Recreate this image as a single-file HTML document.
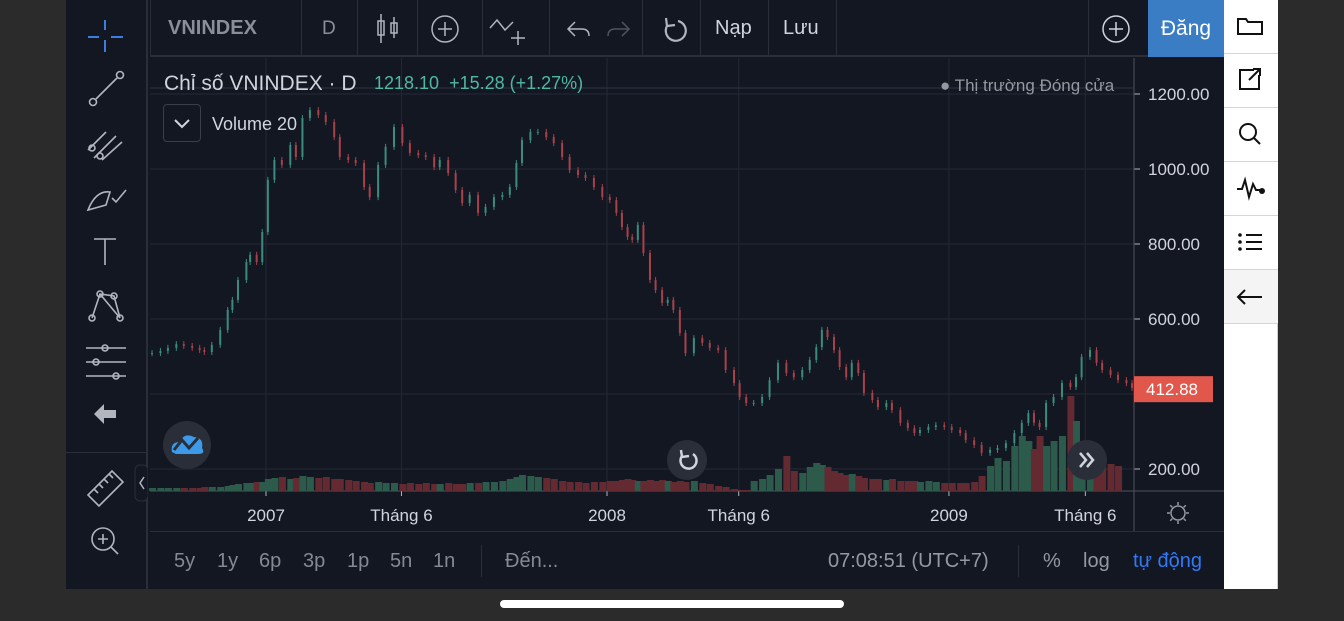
<!DOCTYPE html>
<html><head><meta charset="utf-8">
<style>
*{margin:0;padding:0;box-sizing:border-box}
body{width:1344px;height:621px;background:#2b2b2b;position:relative;overflow:hidden;font-family:"Liberation Sans","DejaVu Sans",sans-serif}
.abs{position:absolute}
.t{position:absolute;white-space:nowrap;color:#d1d4dc}
.sep{position:absolute;top:0;width:1px;height:57px;background:#2a2e39}
.rp{position:absolute;left:1224px;width:54px;height:54px;border-bottom:1px solid #d6d6d6;background:#fff}
</style></head><body>
<div class="abs" style="left:66px;top:0;width:1212px;height:589px;background:#131722"></div>
<div class="abs" style="left:66px;top:0;width:82px;height:589px;background:#131722;border-right:2px solid #2a2e39"></div>
<div class="abs" style="left:66px;top:452px;width:82px;height:1px;background:#2a2e39"></div>
<svg class="abs" style="left:66px;top:0" width="82" height="589">
<g stroke="#3d7de0" stroke-width="2"><line x1="39" y1="20" x2="39" y2="30"/><line x1="39" y1="40" x2="39" y2="52"/><line x1="22" y1="37" x2="33" y2="37"/><line x1="45" y1="37" x2="57" y2="37"/></g>
<g stroke="#b2b5be" stroke-width="1.6" fill="none">
<circle cx="27" cy="102" r="3.5"/><circle cx="54" cy="75" r="3.5"/><line x1="30" y1="99" x2="51" y2="78"/>
<path d="M22 150 L40 132 M28 158 L50 136 M36 160 L56 142"/><circle cx="26" cy="148" r="3"/><circle cx="34" cy="156" r="3"/>
<path d="M22 210 Q30 190 44 192 L40 205 Z"/><path d="M46 198 L50 202 L60 190"/>
<path d="M28 239 H50 M39 239 V265"/>
<circle cx="26" cy="318" r="3"/><circle cx="54" cy="318" r="3"/><circle cx="34" cy="294" r="3"/><circle cx="48" cy="296" r="3"/><path d="M26 318 L34 294 L48 296 L54 318 M34 294 L54 318"/>
<path d="M20 348 H60 M20 362 H60 M20 376 H60"/><circle cx="39" cy="348" r="3"/><circle cx="30" cy="362" r="3"/><circle cx="50" cy="376" r="3"/>
<path d="M22 495 L46 471 L57 482 L33 506 Z M28 489 l4 4 M33 484 l4 4 M38 479 l4 4 M43 474 l4 4"/>
<circle cx="37" cy="539" r="11"/><path d="M45 547 L52 554 M32 539 H42 M37 534 V544"/>
</g>
<path d="M28 414 L38 404 V410 H50 V418 H38 V424 Z" fill="#b2b5be"/>
<rect x="69" y="465" width="13" height="36" rx="5" fill="#131722" stroke="#2a2e39"/>
<path d="M78 477 L74 483 L78 489" stroke="#b2b5be" fill="none" stroke-width="1.5"/>
</svg>
<div class="abs" style="left:150px;top:0;width:1074px;height:57px;border-bottom:2px solid #2a2e39"></div>
<div class="sep" style="left:150px"></div><div class="sep" style="left:301px"></div><div class="sep" style="left:357px"></div><div class="sep" style="left:417px"></div><div class="sep" style="left:482px"></div><div class="sep" style="left:549px"></div><div class="sep" style="left:642px"></div><div class="sep" style="left:700px"></div><div class="sep" style="left:768px"></div><div class="sep" style="left:836px"></div><div class="sep" style="left:1088px"></div>
<div class="t" style="left:168px;top:17px;font-size:20px;font-weight:bold;color:#8a8e99">VNINDEX</div>
<div class="t" style="left:322px;top:18px;font-size:19px;color:#8a8e99">D</div>
<svg class="abs" style="left:360px;top:0" width="480" height="57">
<g stroke="#b2b5be" stroke-width="1.5" fill="none">
<rect x="18" y="21" width="6" height="14"/><line x1="21" y1="14" x2="21" y2="43"/><rect x="31" y="23" width="6" height="10"/><line x1="34" y1="17" x2="34" y2="38"/>
<circle cx="85" cy="29" r="13"/><path d="M85 22 V36 M78 29 H92"/>
<path d="M130 28 L137 20 L145 30 L153 22 M158 31 V45 M151 38 H165"/>
<path d="M215 22 L208 29 L215 36 M208 29 H222 Q229 29 229 36"/>
<path d="M262 22 L269 29 L262 36 M269 29 H255 Q248 29 248 36" stroke="#50535e"/>
<path d="M318 21 A10 10 0 1 1 307 26 M306 18 L307 26 L315 25" stroke-width="2.2"/>
</g></svg>
<div class="t" style="left:715px;top:17px;font-size:20px">Nạp</div>
<div class="t" style="left:783px;top:17px;font-size:20px">Lưu</div>
<svg class="abs" style="left:1100px;top:15px" width="32" height="30"><g stroke="#d1d4dc" stroke-width="1.5" fill="none"><circle cx="16" cy="14" r="13"/><path d="M16 7 V21 M9 14 H23"/></g></svg>
<div class="abs" style="left:1148px;top:0;width:76px;height:57px;background:#3a7dc4;color:#fff;font-size:21px;text-align:center;line-height:57px">Đăng</div>
<div class="abs" style="left:1224px;top:0;width:54px;height:589px;background:#fff;border-right:1px solid #ccc"></div>
<div class="rp" style="top:0"></div><div class="rp" style="top:54px"></div><div class="rp" style="top:108px"></div><div class="rp" style="top:162px"></div><div class="rp" style="top:216px"></div><div class="rp" style="top:270px;background:#f4f4f4"></div>
<svg class="abs" style="left:1224px;top:0" width="54" height="320">
<g stroke="#111" stroke-width="2" fill="none">
<path d="M14 19 H22 L24 22 H38 V34 H14 Z"/>
<path d="M30 70 H16 V89 H35 V75 M25 80 L36 69 M29 69 H36 V76"/>
<circle cx="24" cy="132" r="8"/><path d="M30 138 L36 144"/>
<path d="M13 189 H18 L21 180 L25 197 L29 184 L32 190 H36"/>
<path d="M22 235 H38 M22 242 H38 M22 249 H38"/>
<path d="M14 297 H38 M21 290 L14 297 L21 304"/>
</g><circle cx="38" cy="191" r="3" fill="#111"/><circle cx="16" cy="235" r="1.8" fill="#111"/><circle cx="16" cy="242" r="1.8" fill="#111"/><circle cx="16" cy="249" r="1.8" fill="#111"/>
</svg>
<svg id="chart" class="abs" style="left:0;top:0" width="1344" height="590"></svg>
<div class="t" style="left:164px;top:72px;font-size:21px">Chỉ số VNINDEX · D</div>
<div class="t" style="left:374px;top:73px;font-size:18px;color:#4fb8a3">1218.10 &nbsp;+15.28 (+1.27%)</div>
<div class="t" style="left:940px;top:76px;font-size:17px;color:#9598a1">● Thị trường Đóng cửa</div>
<div class="abs" style="left:163px;top:104px;width:38px;height:38px;border:1px solid #3a3e4a;border-radius:4px"></div>
<svg class="abs" style="left:163px;top:104px" width="38" height="38"><path d="M12 16 L19 23 L26 16" stroke="#d1d4dc" stroke-width="2" fill="none"/></svg>
<div class="t" style="left:212px;top:114px;font-size:18px">Volume 20</div>
<div class="abs" style="left:150px;top:531px;width:1074px;height:1px;background:#2a2e39"></div>
<div class="t" style="left:174px;top:550px;font-size:20px;color:#868993">5y</div>
<div class="t" style="left:217px;top:550px;font-size:20px;color:#868993">1y</div>
<div class="t" style="left:259px;top:550px;font-size:20px;color:#868993">6p</div>
<div class="t" style="left:303px;top:550px;font-size:20px;color:#868993">3p</div>
<div class="t" style="left:347px;top:550px;font-size:20px;color:#868993">1p</div>
<div class="t" style="left:390px;top:550px;font-size:20px;color:#868993">5n</div>
<div class="t" style="left:433px;top:550px;font-size:20px;color:#868993">1n</div>
<div class="abs" style="left:481px;top:545px;width:1px;height:32px;background:#2a2e39"></div>
<div class="t" style="left:505px;top:550px;font-size:20px;color:#868993">Đến...</div>
<div class="t" style="left:828px;top:550px;font-size:20px;color:#9598a1">07:08:51 (UTC+7)</div>
<div class="abs" style="left:1018px;top:545px;width:1px;height:32px;background:#2a2e39"></div>
<div class="t" style="left:1043px;top:550px;font-size:20px;color:#9598a1">%</div>
<div class="t" style="left:1083px;top:550px;font-size:20px;color:#9598a1">log</div>
<div class="t" style="left:1133px;top:550px;font-size:20px;color:#3179f5">tự động</div>
<div class="abs" style="left:500px;top:600px;width:344px;height:8px;border-radius:4px;background:#fff"></div>
<script>
const priceTicks=[200,400,600,800,1000,1200];
const timeLabels=["2007","Tháng 6","2008","Tháng 6","2009","Tháng 6"];
const timeLabelDays=[0,145,365,506,731,877];
const days=[-122,-113,-105,-96,-88,-79,-71,-66,-58,-49,-41,-36,-30,-21,-17,-10,-4,2,9,17,26,32,39,47,56,64,73,79,88,96,105,111,120,128,137,146,154,163,171,180,186,195,203,210,218,227,235,244,253,261,268,274,283,291,300,308,317,325,334,342,351,360,368,375,381,387,392,398,404,411,417,424,430,436,443,449,458,467,475,484,492,501,507,514,522,531,539,548,557,565,574,582,589,595,601,608,614,621,627,634,640,649,655,664,670,679,687,694,700,709,717,726,734,743,749,758,766,775,783,792,801,809,816,822,828,835,843,852,861,867,873,882,889,895,904,912,921,927];
const closes=[509,515,523,533,528,523,517,512,531,571,624,651,704,752,771,752,832,971,1024,1011,1064,1032,1136,1157,1144,1125,1085,1032,1024,1016,952,925,1011,1059,1112,1069,1043,1037,1032,1005,1024,989,944,909,931,883,899,925,931,952,1016,1077,1099,1099,1085,1069,1032,997,984,976,952,925,917,883,845,819,811,851,776,704,677,643,651,624,563,509,549,536,523,517,464,429,392,376,376,392,437,483,456,445,464,491,525,571,552,517,472,445,483,456,403,384,365,376,357,323,309,296,304,312,317,312,304,296,277,264,243,251,256,269,296,323,349,323,312,376,392,429,419,445,499,517,483,464,451,437,429,416];
const volumes=[3,3,3,3,3,3,3,4,4,4,5,6,7,8,8,9,9,12,13,14,12,13,15,14,13,14,12,12,11,10,9,8,9,8,8,7,8,7,8,7,7,8,7,7,8,8,9,9,10,12,14,16,15,14,13,12,10,9,9,8,9,9,10,10,11,12,11,10,10,11,10,11,10,9,10,9,10,8,7,5,4,2,1,1,10,12,16,22,35,20,18,24,28,26,24,20,18,16,17,15,13,12,12,11,12,10,10,10,9,10,9,8,8,8,8,9,15,25,33,30,45,55,50,42,55,45,50,55,95,70,50,32,30,28,27,25];
const svg=document.getElementById('chart');
const NS='http://www.w3.org/2000/svg';
const TOP=58,BOT=491;
function xD(d){return 266+d*341/365;}
function yP(p){return 469-(p-200)*0.375;}
function yV(v){return BOT-v;}
function mk(tag,attrs,parent){const e=document.createElementNS(NS,tag);for(const k in attrs)e.setAttribute(k,attrs[k]);(parent||svg).appendChild(e);return e;}
priceTicks.forEach(p=>{const l=mk('line',{x1:150,x2:1134,y1:yP(p),y2:yP(p),stroke:'#232835','stroke-width':1});


mk('line',{x1:1134,x2:1140,y1:yP(p),y2:yP(p),stroke:'#b2b5be'});
const t=mk('text',{x:1148,y:yP(p)+6,fill:'#d1d4dc','font-size':17,'font-family':'Liberation Sans, sans-serif'});t.textContent=p.toFixed(2);

});
timeLabels.forEach((s,k)=>{const x=xD(timeLabelDays[k]);
const l=mk('line',{x1:x,x2:x,y1:TOP,y2:BOT,stroke:'#232835'});


mk('line',{x1:x,x2:x,y1:BOT,y2:BOT+5,stroke:'#b2b5be'});
const t=mk('text',{x:x,y:521,fill:'#d1d4dc','font-size':17,'text-anchor':'middle','font-family':'Liberation Sans, sans-serif'});t.textContent=s;

});
mk('line',{x1:1134,x2:1134,y1:58,y2:531,stroke:'#50535e'});
mk('line',{x1:150,x2:1224,y1:491,y2:491,stroke:'#50535e'});
mk('line',{x1:150,x2:1134,y1:88,y2:88,stroke:'#2e3442'});
closes.forEach((c,i)=>{const prev=i?closes[i-1]:c;const up=c>=prev;
const r=mk('rect',{x:xD(days[i])-3,y:yV(volumes[i]),width:7,height:BOT-yV(volumes[i]),fill:up?'#2c5a4b':'#632a32'});

});
closes.forEach((c,i)=>{const prev=i?closes[i-1]:c;const up=c>=prev;const col=up?'#3a8d7e':'#a8424a';
const x=xD(days[i]);const hi=Math.max(c,prev),lo=Math.min(c,prev);
const w=mk('line',{x1:x,x2:x,y1:yP(hi)-3,y2:yP(lo)+3,stroke:col,'stroke-width':1});


const b=mk('rect',{x:x-1,y:yP(hi),width:2,height:Math.max(1,yP(lo)-yP(hi)),fill:col});

});
const last=412.88;
const lb=mk('rect',{x:1134,y:yP(last)-13,width:79,height:26,fill:'#e2574c'});


const lt=mk('text',{x:1146,y:yP(last)+6,fill:'#fff','font-size':17,'font-family':'Liberation Sans, sans-serif'});lt.textContent=last.toFixed(2);
const b1=mk('circle',{cx:187,cy:445,r:24,fill:'#2a2e39'});


mk('path',{d:'M172 452 Q170 442 180 442 Q184 432 194 437 Q204 438 202 448 Q206 454 198 454 H176 Z',fill:'#3d9ae8'});
mk('path',{d:'M174 450 L182 440 L189 448 L198 438',stroke:'#2a2e39','stroke-width':3,fill:'none'});
const b2=mk('circle',{cx:687,cy:460,r:20,fill:'#2a2e39'});


mk('path',{d:'M693 454 A8 8 0 1 1 682 456 M681 450 L682 457 L689 456',stroke:'#d1d4dc','stroke-width':2.5,fill:'none'});
const b3=mk('circle',{cx:1087,cy:460,r:20,fill:'#2a2e39'});


mk('path',{d:'M1080 453 L1086 460 L1080 467 M1087 453 L1093 460 L1087 467',stroke:'#d1d4dc','stroke-width':2.5,fill:'none'});
const g=mk('circle',{cx:1178,cy:513,r:7,fill:'none',stroke:'#9598a1','stroke-width':1.5});


for(let a=0;a<8;a++){const an=a*Math.PI/4;mk('line',{x1:1178+Math.cos(an)*8,y1:513+Math.sin(an)*8,x2:1178+Math.cos(an)*11,y2:513+Math.sin(an)*11,stroke:'#9598a1','stroke-width':1.5});}
</script>
</body></html>
